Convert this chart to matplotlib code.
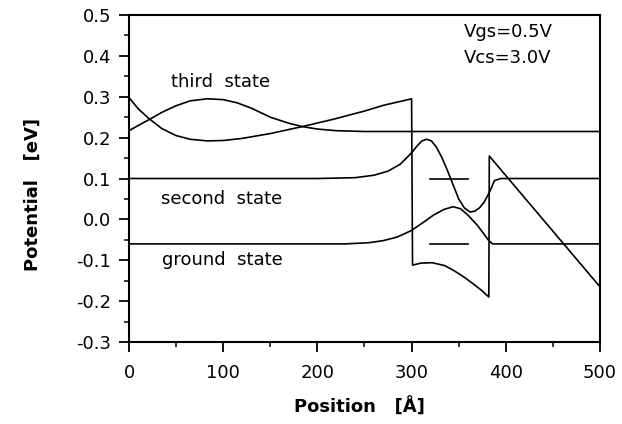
import matplotlib
matplotlib.use('Agg')
import matplotlib.pyplot as plt

plt.rcParams['font.family'] = ['DejaVu Sans']
plt.rcParams['axes.unicode_minus'] = False  # 坐标轴用普通负号

# 势能曲线 (conduction band profile)
pot_x = [0, 10, 22, 35, 50, 65, 83, 100, 120, 150, 184, 217, 250, 270, 300,
         301, 310, 322, 335, 344, 355, 365, 375, 382, 382.5, 500]
pot_y = [0.298, 0.27, 0.245, 0.222, 0.205, 0.196, 0.192, 0.193, 0.198, 0.21,
         0.227, 0.245, 0.265, 0.279, 0.295,
         -0.112, -0.107, -0.106, -0.113, -0.124, -0.14, -0.157, -0.175, -0.19,
         0.155, -0.165]

# third state
third_x = [0, 10, 22, 35, 50, 65, 83, 100, 115, 130, 150, 170, 184, 200, 220,
           250, 300, 500]
third_y = [0.217, 0.23, 0.245, 0.262, 0.278, 0.29, 0.295, 0.293, 0.285, 0.272,
           0.25, 0.235, 0.227, 0.221, 0.217, 0.215, 0.215, 0.215]

# second state
second_x = [0, 200, 240, 260, 275, 288, 300, 306, 311, 316, 321, 326, 332, 338,
            344, 350, 356, 362, 367, 372, 377, 383, 388, 395, 500]
second_y = [0.1, 0.1, 0.102, 0.108, 0.118, 0.135, 0.163, 0.18, 0.192, 0.196,
            0.192, 0.178, 0.152, 0.12, 0.085, 0.05, 0.028, 0.018, 0.02, 0.028,
            0.042, 0.068, 0.095, 0.1, 0.1]

# ground state
ground_x = [0, 230, 255, 270, 285, 300, 312, 323, 334, 344, 352, 360, 370, 382,
            386, 500]
ground_y = [-0.06, -0.06, -0.057, -0.052, -0.043, -0.027, -0.008, 0.01, 0.024,
            0.031, 0.026, 0.01, -0.015, -0.052, -0.06, -0.06]

# 阱内能级短线
level_x = [320, 360]
level_second = 0.1
level_ground = -0.06

fig = plt.figure(figsize=(6.22, 4.24), dpi=100)
ax = fig.add_axes([0.2074, 0.1934, 0.7572, 0.7712])

lw = 1.2
ax.plot(pot_x, pot_y, color='black', lw=lw)
ax.plot(third_x, third_y, color='black', lw=lw)
ax.plot(second_x, second_y, color='black', lw=lw)
ax.plot(ground_x, ground_y, color='black', lw=lw)
ax.plot(level_x, [level_second] * 2, color='black', lw=lw)
ax.plot(level_x, [level_ground] * 2, color='black', lw=lw)

ax.text(97, 0.337, 'third  state', fontsize=13, ha='center', va='center')
ax.text(98, 0.051, 'second  state', fontsize=13, ha='center', va='center')
ax.text(99, -0.1, 'ground  state', fontsize=13, ha='center', va='center')
ax.text(355, 0.459, 'Vgs=0.5V', fontsize=13, ha='left', va='center')
ax.text(355, 0.395, 'Vcs=3.0V', fontsize=13, ha='left', va='center')

ax.set_xlim(0, 500)
ax.set_ylim(-0.3, 0.5)
ax.set_xticks(range(0, 501, 100))
ax.set_xticks(range(50, 500, 100), minor=True)
ax.set_yticks([-0.3, -0.2, -0.1, 0.0, 0.1, 0.2, 0.3, 0.4, 0.5])
ax.set_yticklabels(['-0.3', '-0.2', '-0.1', '0.0', '0.1', '0.2', '0.3', '0.4', '0.5'])
ax.set_yticks([-0.25, -0.15, -0.05, 0.05, 0.15, 0.25, 0.35, 0.45], minor=True)
ax.tick_params(which='major', direction='out', length=7, width=1.3, labelsize=13)
ax.tick_params(axis='x', which='major', pad=9)
ax.tick_params(axis='y', which='major', pad=6)
ax.tick_params(which='minor', direction='out', length=3.5, width=1.1)
for s in ax.spines.values():
    s.set_linewidth(1.5)

ax.set_xlabel('Position   [Å]', fontsize=13, fontweight='bold')
ax.xaxis.set_label_coords(0.49, -0.17)
ax.set_ylabel('Potential   [eV]', fontsize=13, fontweight='bold')
ax.yaxis.set_label_coords(-0.185, 0.45)

fig.savefig('out.png', dpi=100)
